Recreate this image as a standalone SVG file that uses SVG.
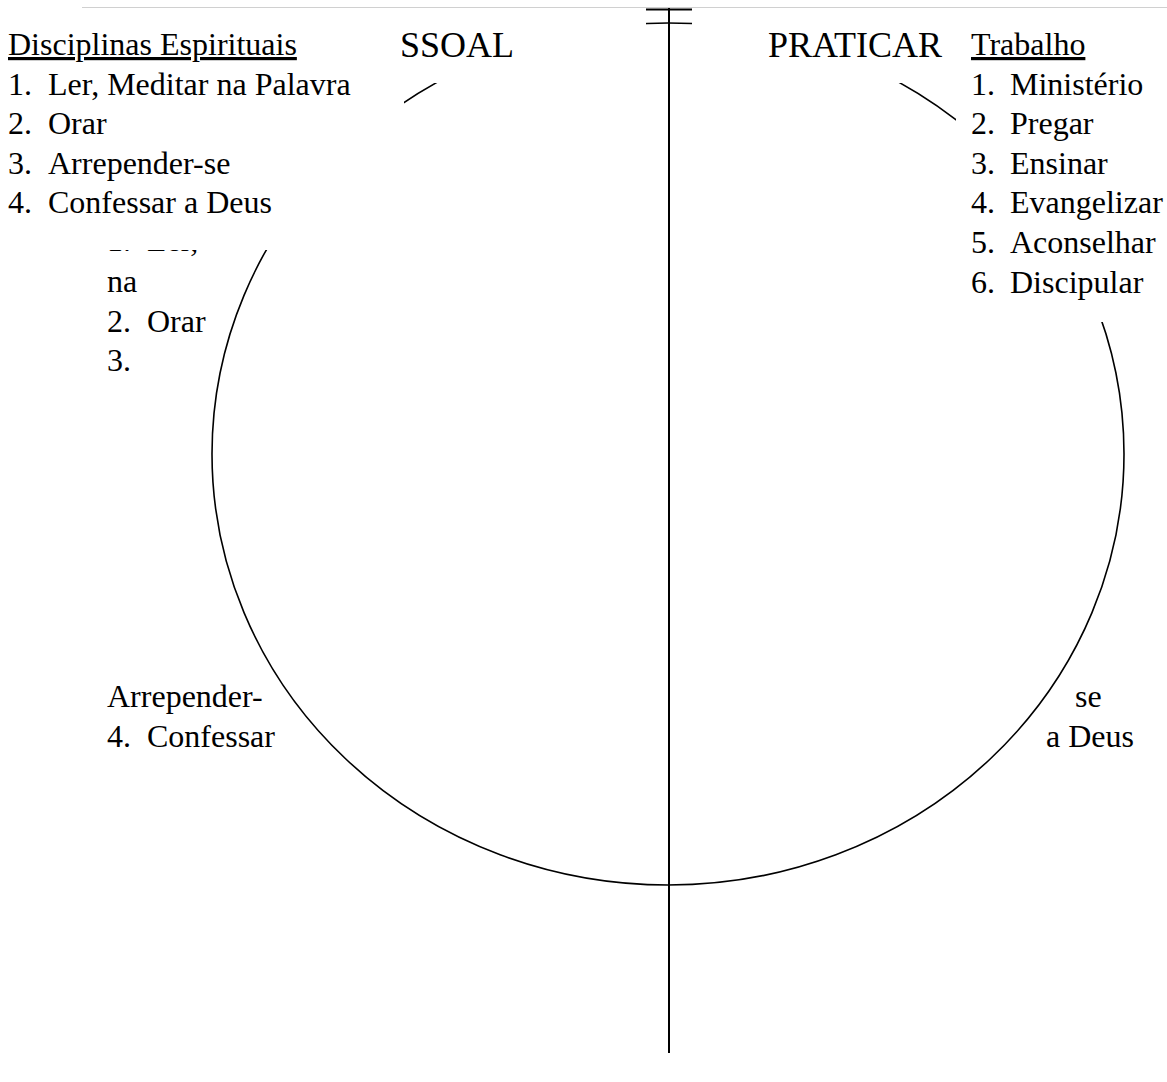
<svg xmlns="http://www.w3.org/2000/svg" width="1167" height="1082" viewBox="0 0 1167 1082">
<style>
text{font-family:"Liberation Serif","Times New Roman",serif;font-size:32px;fill:#000}
.big{font-size:36px}
.u{text-decoration:underline}
.mask{fill:#fff;stroke:none}
.ln{stroke:#000;fill:none}
</style>
<rect width="1167" height="1082" fill="#fff"/>
<line x1="82" y1="7.5" x2="1167" y2="7.5" stroke="#d0d0d0" stroke-width="1"/>
<g id="connectors">
<ellipse class="ln" cx="668" cy="454" rx="456" ry="431" stroke-width="1.6"/>
</g>
<g id="inner-left">
<text x="107" y="251">1.</text><text x="147" y="251">Ler,</text>
<text x="107" y="292">na</text>
<text x="107" y="332">2.</text><text x="147" y="332">Orar</text>
<text x="107" y="371">3.</text>
<text x="107" y="707">Arrepender-</text>
<text x="107" y="747">4.</text><text x="147" y="747">Confessar</text>
</g>
<g id="inner-right">
<text x="1075" y="707">se</text>
<text x="1046" y="747">a Deus</text>
</g>
<g id="masks">
<rect class="mask" x="300" y="12" width="346" height="71"/>
<rect class="mask" x="692" y="12" width="211" height="71"/>
<rect class="mask" x="0" y="12" width="404" height="238"/>
<rect class="mask" x="956" y="12" width="211" height="310"/>
</g>
<g id="axis">
<line class="ln" x1="669" y1="8" x2="669" y2="1053" stroke-width="2"/>
<line class="ln" x1="646" y1="9.5" x2="692" y2="9.5" stroke-width="2"/>
</g>
<g id="pessoal">
<svg x="402" y="0" width="300" height="80" overflow="hidden"><text class="big" x="112" y="57" text-anchor="end">PESSOAL</text></svg>
</g>
<g id="praticar">
<text class="big" x="768" y="57">PRATICAR</text>
</g>
<g id="disciplinas">
<text class="u" x="8" y="55">Disciplinas Espirituais</text>
<text x="8" y="95">1.</text><text x="48" y="95">Ler, Meditar na Palavra</text>
<text x="8" y="134">2.</text><text x="48" y="134">Orar</text>
<text x="8" y="174">3.</text><text x="48" y="174">Arrepender-se</text>
<text x="8" y="213">4.</text><text x="48" y="213">Confessar a Deus</text>
</g>
<g id="trabalho">
<text class="u" x="971" y="55">Trabalho</text>
<text x="971" y="95">1.</text><text x="1010" y="95">Ministério</text>
<text x="971" y="134">2.</text><text x="1010" y="134">Pregar</text>
<text x="971" y="174">3.</text><text x="1010" y="174">Ensinar</text>
<text x="971" y="213">4.</text><text x="1010" y="213">Evangelizar</text>
<text x="971" y="253">5.</text><text x="1010" y="253">Aconselhar</text>
<text x="971" y="293">6.</text><text x="1010" y="293">Discipular</text>
</g>
</svg>
